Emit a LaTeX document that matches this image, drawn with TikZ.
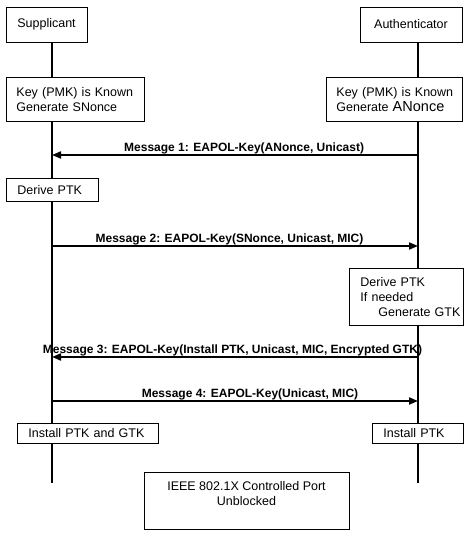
\documentclass[tikz,border=0pt]{standalone}
\usepackage{fontspec}
\setmainfont{Liberation Sans}
\usetikzlibrary{arrows.meta}
\begin{document}
\begin{tikzpicture}[x=1pt,y=-1pt,
  box/.style={draw, line width=0.9pt, fill=white, inner sep=0pt, font=\fontsize{12.5}{15}\selectfont},
  lbox/.style={box, anchor=north west, align=left, inner xsep=10pt, inner ysep=0pt},
  life/.style={line width=1.3pt},
  msg/.style={line width=2pt, -{Triangle[length=9pt,width=7pt]}},
  lbl/.style={anchor=base, yshift=4pt, inner sep=0pt, font=\fontsize{12}{14}\selectfont\bfseries},
]
\path[use as bounding box, fill=white] (0,0) rectangle (467,536);
\coordinate (sTop) at (52,42);
\coordinate (sEnd) at (52,483);
\coordinate (aTop) at (418,42);
\coordinate (aEnd) at (418,483);
\draw[life] (sTop) -- (sEnd);
\draw[life] (aTop) -- (aEnd);

\node[box, minimum width=81pt, minimum height=35pt] (sup) at (46.5,24.5) {Supplicant};
\node[box, minimum width=102pt, minimum height=35pt] (auth) at (411,24.5) {Authenticator};
\node[lbox, text width=118pt, minimum height=44pt] (skey) at (6,77) {\mbox{Key (PMK) is Known}\\\mbox{Generate SNonce}};
\node[lbox, text width=116pt, minimum height=44pt] (akey) at (326,77) {\mbox{Key (PMK) is Known}\\\mbox{Generate {\fontsize{14.5}{15}\selectfont ANonce}}};
\node[lbox, inner xsep=11pt, text width=70pt, minimum height=23pt] (sder) at (6,178) {\mbox{Derive PTK}};
\node[lbox, inner xsep=11pt, text width=92pt, minimum height=57pt] (ader) at (349,268) {\mbox{Derive PTK}\\\mbox{If needed}\\\mbox{\hspace*{18pt}Generate GTK}};
\node[lbox, inner xsep=11pt, text width=119pt, minimum height=20pt] (sinst) at (17,423) {\mbox{Install PTK and GTK}};
\node[lbox, inner xsep=11pt, text width=69pt, minimum height=20pt] (ainst) at (372,423) {\mbox{Install PTK}};
\node[box, minimum width=205pt, minimum height=57pt] (ieee) at (246.5,500.5) {};
\node[font=\fontsize{12.5}{15}\selectfont, align=center, inner sep=0pt] (ieeetxt) at (246.5,494) {IEEE 802.1X Controlled Port\\Unblocked};

\coordinate (m1s) at (52,155);  \coordinate (m1a) at (418,155);
\coordinate (m2s) at (52,246);  \coordinate (m2a) at (418,246);
\coordinate (m3s) at (52,357);  \coordinate (m3a) at (418,357);
\coordinate (m4s) at (52,401);  \coordinate (m4a) at (418,401);

\draw[msg] (m1a) -- (m1s) node[lbl, pos=0.475] {Message 1: EAPOL-Key(ANonce, Unicast)};
\draw[msg] (m2s) -- (m2a) node[lbl, pos=0.485] {Message 2: EAPOL-Key(SNonce, Unicast, MIC)};
\draw[msg] (m3a) -- (m3s) node[lbl, pos=0.507] {Message 3: EAPOL-Key(Install PTK, Unicast, MIC, Encrypted GTK)};
\draw[msg] (m4s) -- (m4a) node[lbl, pos=0.541] {Message 4: EAPOL-Key(Unicast, MIC)};
\end{tikzpicture}
\end{document}
